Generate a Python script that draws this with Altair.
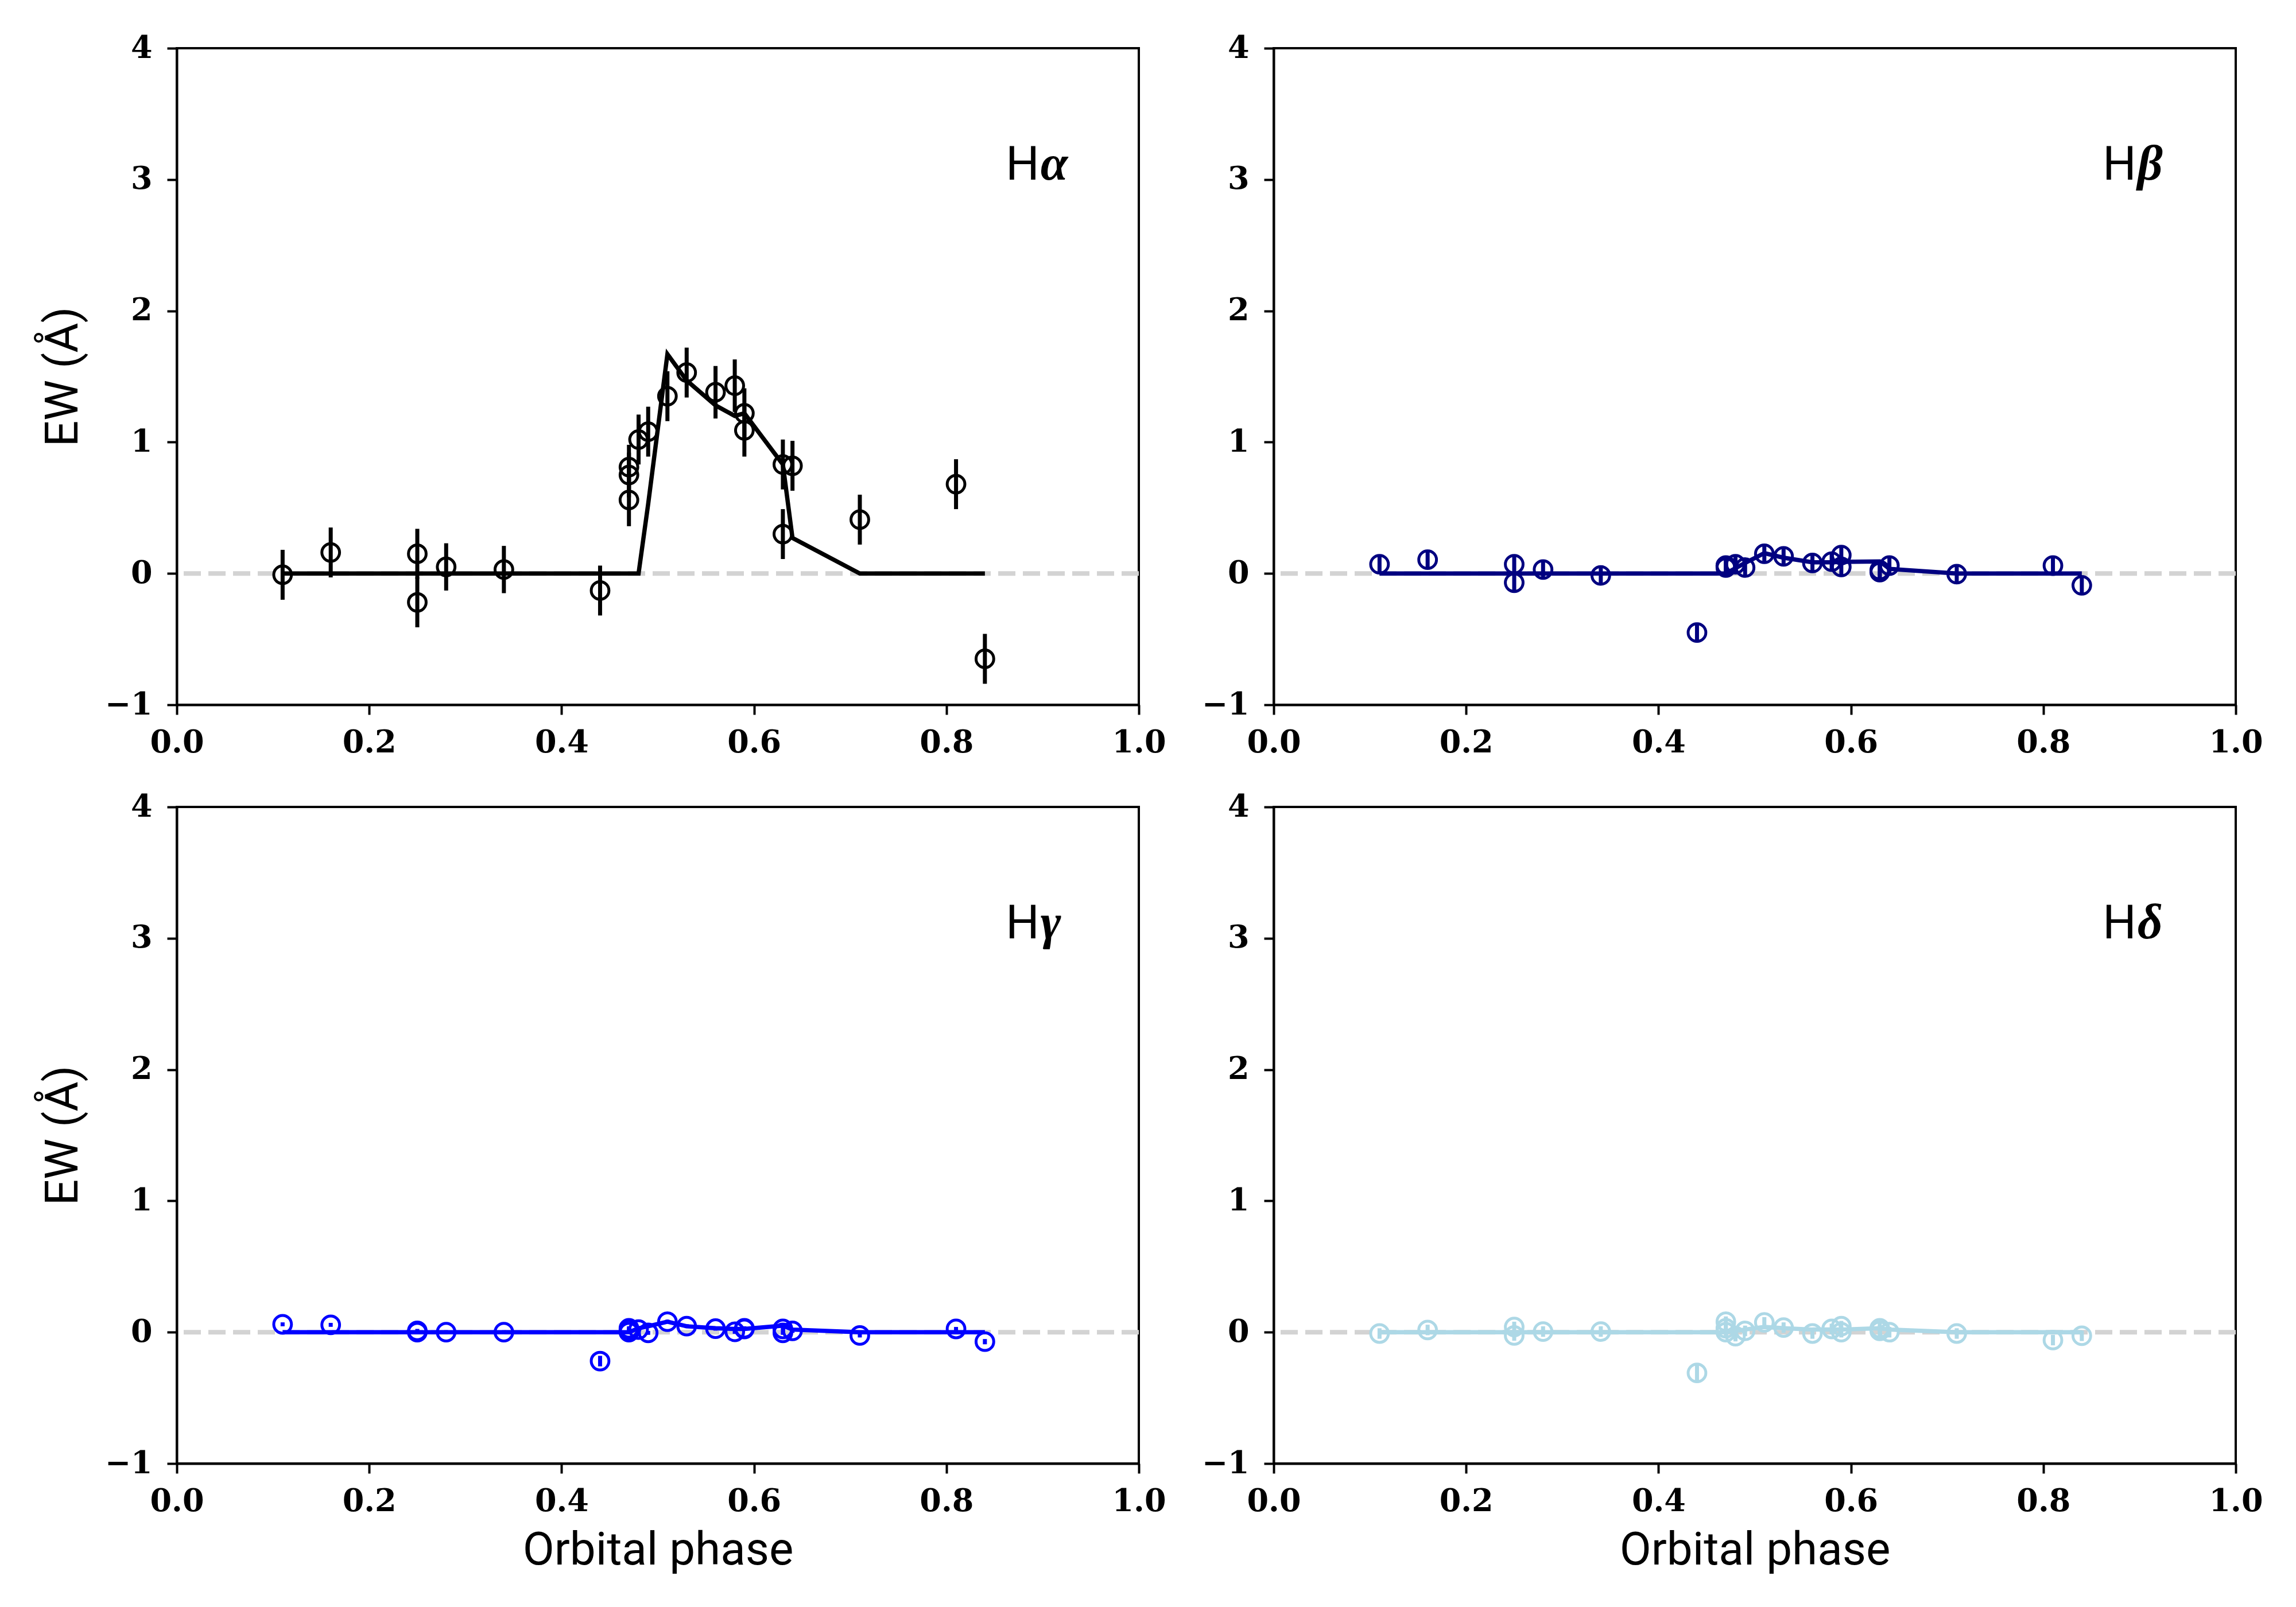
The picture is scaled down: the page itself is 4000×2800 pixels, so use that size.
import altair as alt
import pandas as pd

# ---------------- data ----------------
phase = [0.11, 0.16, 0.25, 0.25, 0.28, 0.34, 0.44, 0.47, 0.47, 0.47, 0.48, 0.49,
         0.51, 0.53, 0.56, 0.58, 0.59, 0.59, 0.63, 0.63, 0.64, 0.71, 0.81, 0.84]

ha_ew = [-0.01, 0.16, 0.15, -0.22, 0.05, 0.03, -0.13, 0.81, 0.75, 0.56, 1.02, 1.08,
         1.35, 1.53, 1.38, 1.43, 1.22, 1.09, 0.83, 0.30, 0.82, 0.41, 0.68, -0.65]
ha_err = [0.19, 0.19, 0.19, 0.19, 0.18, 0.18, 0.19, 0.17, 0.17, 0.20, 0.19, 0.19,
          0.19, 0.19, 0.20, 0.20, 0.19, 0.20, 0.19, 0.19, 0.19, 0.19, 0.19, 0.19]
ha_model = [0, 0, 0, 0, 0, 0, 0, 0, 0, 0, 0, 0.53,
            1.67, 1.47, 1.28, 1.20, 1.22, 1.22, 0.83, 0.83, 0.27, 0, 0, 0]

hb_ew = [0.07, 0.105, 0.07, -0.07, 0.03, -0.015, -0.45, 0.055, 0.045, 0.06, 0.07, 0.045,
         0.15, 0.13, 0.08, 0.09, 0.14, 0.05, 0.025, 0.01, 0.06, -0.005, 0.06, -0.09]
hb_err = [0.06, 0.06, 0.06, 0.06, 0.06, 0.06, 0.07, 0.06, 0.06, 0.06, 0.06, 0.06,
          0.06, 0.06, 0.06, 0.06, 0.06, 0.06, 0.06, 0.06, 0.06, 0.06, 0.06, 0.06]
hb_model = [0, 0, 0, 0, 0, 0, 0, 0, 0, 0, 0.04, 0.08,
            0.155, 0.12, 0.085, 0.085, 0.088, 0.088, 0.092, 0.092, 0.035, 0, 0, 0]

hg_ew = [0.06, 0.056, 0.01, 0.0, 0.0, 0.0, -0.22, 0.03, 0.0, 0.02, 0.02, -0.005,
         0.08, 0.046, 0.027, 0.003, 0.025, 0.03, 0.025, -0.005, 0.01, -0.025, 0.025, -0.072]
hg_err = [0.015, 0.015, 0.015, 0.015, 0.015, 0.015, 0.04, 0.015, 0.015, 0.015, 0.015, 0.015,
          0.015, 0.015, 0.015, 0.015, 0.015, 0.015, 0.015, 0.015, 0.015, 0.015, 0.015, 0.02]
hg_model = [0, 0, 0, 0, 0, 0, 0, 0, 0, 0, 0.03, 0.045,
            0.08, 0.045, 0.03, 0.025, 0.025, 0.025, 0.05, 0.05, 0.02, 0, 0, 0]

hd_ew = [-0.01, 0.017, 0.04, -0.025, 0.005, 0.005, -0.31, 0.08, 0.03, 0.0, -0.03, 0.01,
         0.075, 0.035, -0.01, 0.025, 0.046, 0.0, 0.03, 0.01, 0.0, -0.01, -0.06, -0.027]
hd_err = [0.04, 0.04, 0.04, 0.04, 0.04, 0.04, 0.065, 0.04, 0.04, 0.04, 0.04, 0.04,
          0.04, 0.04, 0.04, 0.04, 0.04, 0.04, 0.04, 0.04, 0.04, 0.04, 0.04, 0.04]
hd_model = [0, 0, 0, 0, 0, 0, 0, 0, 0, 0, 0.01, 0.02,
            0.04, 0.03, 0.02, 0.02, 0.02, 0.02, 0.03, 0.03, 0.02, 0, 0, 0]

greek = ["α", "β", "γ", "δ"]
colors = ["black", "navy", "blue", "lightblue"]
x_ticks = [0.0, 0.2, 0.4, 0.6, 0.8, 1.0]
y_ticks = [-1, 0, 1, 2, 3, 4]

series = [(ha_ew, ha_err, ha_model), (hb_ew, hb_err, hb_model),
          (hg_ew, hg_err, hg_model), (hd_ew, hd_err, hd_model)]

W, H = 1676, 1144


def panel(i):
    ew, err, model = series[i]
    col = colors[i]
    bottom = i >= 2
    left = i % 2 == 0
    df = pd.DataFrame({"phase": phase, "ew": ew, "err": err, "model": model})
    df["lo"] = [a - b for a, b in zip(ew, err)]
    df["hi"] = [a + b for a, b in zip(ew, err)]

    xaxis = alt.Axis(values=x_ticks, format=".1f", labelFlush=False,
                     title="Orbital phase" if bottom else "",
                     titleX=W / 2, titleY=175, titleAlign="center",
                     titleBaseline="alphabetic")
    yaxis = alt.Axis(values=y_ticks, format="d", labelFlush=False,
                     title="EW (Å)" if left else "",
                     titleX=-174, titleY=H / 2, titleAngle=270,
                     titleAlign="center", titleBaseline="alphabetic")
    xs = alt.Scale(domain=[0, 1], nice=False, zero=False)
    ys = alt.Scale(domain=[-1, 4], nice=False, zero=False)

    zero = alt.Chart(pd.DataFrame({"z": [0]})).mark_rule(
        color="lightgrey", strokeDash=[30, 13], strokeWidth=8
    ).encode(y=alt.Y("z:Q", scale=ys, axis=yaxis))

    bars = alt.Chart(df).mark_rule(color=col, strokeWidth=7).encode(
        x=alt.X("phase:Q", scale=xs, axis=xaxis),
        y=alt.Y("lo:Q", scale=ys, axis=yaxis),
        y2="hi:Q",
    )
    line = alt.Chart(df).mark_line(color=col, strokeWidth=7.5).encode(
        x=alt.X("phase:Q", scale=xs, axis=xaxis),
        y=alt.Y("model:Q", scale=ys, axis=yaxis),
    )
    pts = alt.Chart(df).mark_point(
        shape="circle", filled=False, size=950, strokeWidth=5,
        color=col, opacity=1
    ).encode(
        x=alt.X("phase:Q", scale=xs, axis=xaxis),
        y=alt.Y("ew:Q", scale=ys, axis=yaxis),
    )
    lab_h = alt.Chart(pd.DataFrame({"t": ["H"]})).mark_text(
        font="Roboto", fontSize=82, align="right", baseline="alphabetic",
        color="black", dx=1
    ).encode(x=alt.datum(0.896), y=alt.datum(3.0), text="t:N")
    lab_g = alt.Chart(pd.DataFrame({"t": [greek[i]]})).mark_text(
        font="Liberation Serif", fontSize=86, fontStyle="italic",
        fontWeight="bold", align="left", baseline="alphabetic",
        color="black", dx=3
    ).encode(x=alt.datum(0.896), y=alt.datum(3.0), text="t:N")

    return alt.layer(zero, bars, line, pts, lab_h, lab_g).properties(
        width=W, height=H)


chart = alt.concat(
    panel(0), panel(1), panel(2), panel(3), columns=2,
    spacing=alt.RowColnumber(row=178, column=235),
    bounds="flush",
).properties(
    padding={"left": 60, "top": 47, "right": 10, "bottom": 10}
).configure_view(
    stroke="black", strokeWidth=4
).configure_axis(
    grid=False, domainColor="black", domainWidth=4,
    tickColor="black", tickWidth=4, tickSize=17,
    labelFont="DejaVu Serif", labelFontWeight="bold", labelFontSize=54,
    labelColor="black", titleFont="Roboto", titleFontSize=80,
    titleFontWeight="normal", titleColor="black",
).configure_axisX(
    labelPadding=22,
).configure_axisY(
    labelPadding=26,
)

chart.save("out.html", embed_options={"renderer": "svg", "actions": False})
